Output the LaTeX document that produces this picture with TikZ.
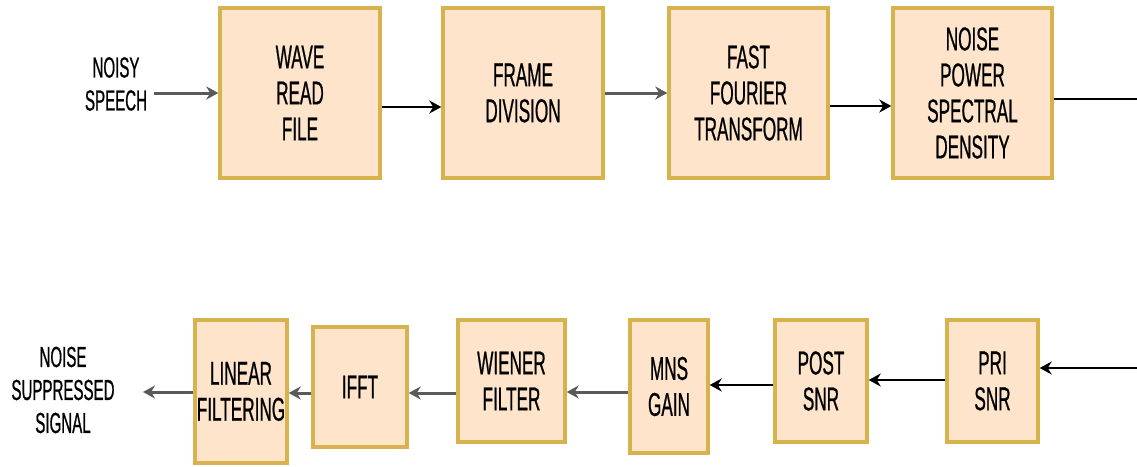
\documentclass[tikz,border=0pt]{standalone}
\usepackage{fontspec}
\setmainfont{Liberation Sans}[FakeStretch=0.52, FakeBold=0.6]
\usetikzlibrary{arrows.meta}
\definecolor{blockfill}{HTML}{FDE4CB}
\definecolor{blockdraw}{HTML}{D8B24C}
\definecolor{greyline}{HTML}{5A5A5A}

\begin{document}
\begin{tikzpicture}[x=1pt, y=-1pt,
  block/.style={shape=rectangle, draw=blockdraw, fill=blockfill, line width=3.4pt, align=center, inner sep=0pt, font=\fontsize{33}{36}\selectfont},
  lbl/.style={align=center, inner sep=3pt, font=\fontsize{29}{33}\selectfont},
  arr/.style={-{Stealth[length=12pt, width=13pt]}, line width=2.4pt, draw=black},
  garr/.style={arr, line width=3pt, draw=greyline}]
\useasboundingbox (0,0) rectangle (1137,466);
\coordinate (edgeA) at (1137, 99);
\coordinate (edgeB) at (1137, 368);
\coordinate (sink) at (143, 392);
\node[lbl] (speech) at (116, 84) {NOISY\\SPEECH};
\node[lbl] (signal) at (63, 390) {NOISE\\SUPPRESSED\\SIGNAL};
% upper chain
\node[block, minimum width=160pt, minimum height=170pt] (wave) at (300, 93) {WAVE\\READ\\FILE};
\node[block, minimum width=160pt, minimum height=170pt] (frame) at (523, 93) {FRAME\\DIVISION};
\node[block, minimum width=159pt, minimum height=170pt] (fft) at (748.5, 93) {FAST\\FOURIER\\TRANSFORM};
\node[block, minimum width=159pt, minimum height=170pt] (npsd) at (972.5, 93) {NOISE\\POWER\\SPECTRAL\\DENSITY};
% lower chain
\node[block, minimum width=91pt, minimum height=122pt] (pri) at (992.5, 381) {PRI\\SNR};
\node[block, minimum width=92pt, minimum height=122pt] (post) at (821, 381) {POST\\SNR};
\node[block, minimum width=78pt, minimum height=133pt] (mns) at (669, 386.5) {MNS\\GAIN};
\node[block, minimum width=107pt, minimum height=122pt] (wiener) at (511.5, 381) {WIENER\\FILTER};
\node[block, minimum width=94pt, minimum height=120pt] (ifft) at (360, 387) {IFFT};
\node[block, minimum width=92pt, minimum height=143pt] (linear) at (241, 391.5) {LINEAR\\FILTERING};
\path ([xshift=4pt]speech.east |- wave.west) edge[garr] (wave.west);
\path (wave.east |- 0,107) edge[arr] (frame.west |- 0,107);
\path (frame.east) edge[garr] (fft.west);
\path (fft.east |- 0,106) edge[arr] (npsd.west |- 0,106);
\path (npsd.east |- edgeA) edge[line width=2.4pt, draw=black] (edgeA);
\path (edgeB) edge[arr] (pri.east |- edgeB);
\path (pri.west |- 0,380) edge[arr] (post.east |- 0,380);
\path (post.west |- 0,385) edge[arr] (mns.east |- 0,385);
\path (mns.west |- 0,392) edge[garr] (wiener.east |- 0,392);
\path (wiener.west |- 0,393) edge[garr] (ifft.east |- 0,393);
\path (ifft.west |- 0,393) edge[garr] (linear.east |- 0,393);
\path (linear.west |- sink) edge[garr] (sink);
\end{tikzpicture}
\end{document}
